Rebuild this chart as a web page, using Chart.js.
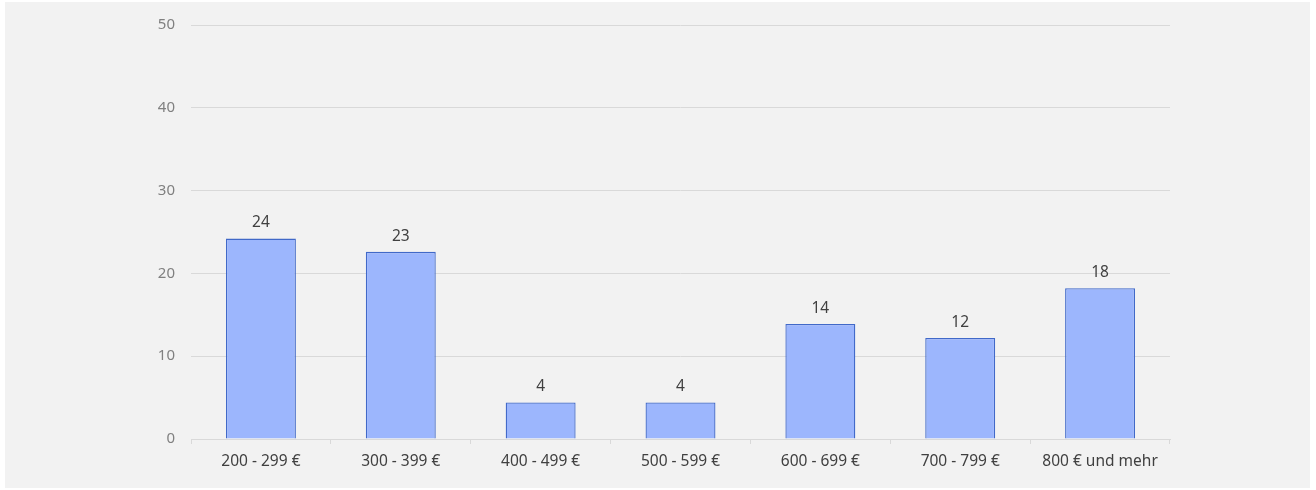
<!DOCTYPE html>
<html lang="de">
<head>
<meta charset="utf-8">
<script src="https://cdn.jsdelivr.net/npm/chart.js@4/dist/chart.umd.min.js"></script>
<style>
  html, body { margin: 0; padding: 0; background: #ffffff; }
  #panel { position: absolute; left: 5px; top: 2px; width: 1305px; height: 486px; background: #f2f2f2; }
  #wrap { position: absolute; left: 0; top: 0; width: 1316px; height: 490px; }
</style>
</head>
<body>
<div id="panel"></div>
<div id="wrap"><canvas id="chart" width="1316" height="490"></canvas></div>
<script>
// Price ranges and share of responses per range
const categories = ['200 - 299 €', '300 - 399 €', '400 - 499 €', '500 - 599 €', '600 - 699 €', '700 - 799 €', '800 € und mehr'];
const shares = [24.2, 22.6, 4.4, 4.4, 13.9, 12.2, 18.2];
const yTicks = [0, 10, 20, 30, 40, 50];

const FONT = '"Noto Sans", "Open Sans", sans-serif';

// Draws the rounded value above each bar
const valueLabels = {
  id: 'valueLabels',
  afterDatasetsDraw(chart) {
    const ctx = chart.ctx;
    const meta = chart.getDatasetMeta(0);
    ctx.save();
    ctx.font = '15.5px ' + FONT;
    ctx.fillStyle = '#404040';
    ctx.textAlign = 'center';
    ctx.textBaseline = 'bottom';
    meta.data.forEach((bar, i) => {
      ctx.fillText(String(Math.round(shares[i])), bar.x, bar.y - 8);
    });
    ctx.restore();
  }
};

new Chart(document.getElementById('chart'), {
  type: 'bar',
  data: {
    labels: categories,
    datasets: [{
      data: shares,
      backgroundColor: '#9cb6fd',
      borderColor: '#4169c8',
      borderWidth: 1.3,
      barPercentage: 0.5,
      categoryPercentage: 1
    }]
  },
  options: {
    responsive: false,
    animation: false,
    layout: { padding: { left: 120, right: 146, top: 24, bottom: 0 } },
    plugins: { legend: { display: false }, tooltip: { enabled: false } },
    scales: {
      x: {
        grid: {
          offset: true,
          drawOnChartArea: false,
          drawTicks: true,
          tickLength: 5,
          color: '#d9d9d9'
        },
        border: { display: true, color: '#d9d9d9', width: 1 },
        ticks: { color: '#404040', font: { family: FONT, size: 15.5 }, padding: 8, maxRotation: 0 },
        afterFit(scale) { scale.height = 51; }
      },
      y: {
        min: 0,
        max: 50,
        afterBuildTicks(scale) { scale.ticks = yTicks.map(v => ({ value: v })); },
        grid: { color: '#d9d9d9', drawTicks: false, lineWidth: 1 },
        border: { display: false },
        ticks: { color: '#808080', font: { family: FONT, size: 15 }, padding: 16 },
        afterFit(scale) { scale.width = 71; }
      }
    }
  },
  plugins: [valueLabels]
});
</script>
</body>
</html>
